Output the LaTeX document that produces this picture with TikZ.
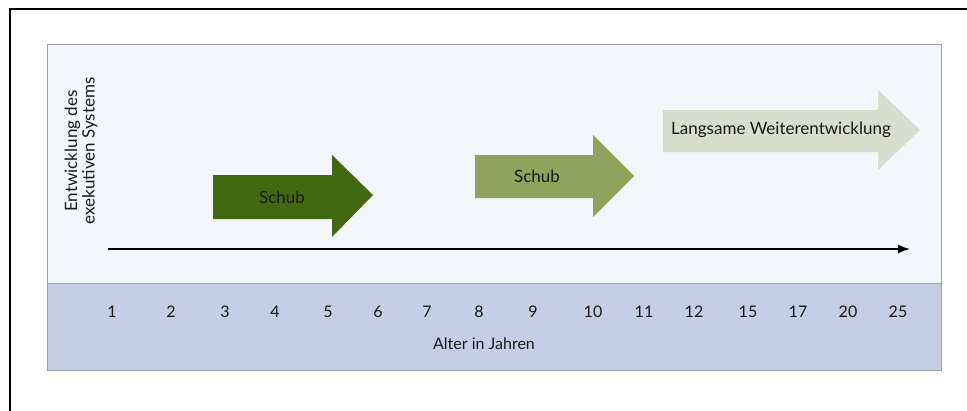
\documentclass[tikz,border=0pt]{standalone}
\usepackage{fontspec}
\setmainfont{Lato}
\usetikzlibrary{arrows.meta}
\definecolor{panelbg}{HTML}{F3F6FA}
\definecolor{bandbg}{HTML}{C4CEE4}
\definecolor{panelline}{HTML}{9A9FA8}
\definecolor{greenA}{HTML}{42690F}
\definecolor{greenB}{HTML}{8FA35C}
\definecolor{greenC}{HTML}{D8DDCC}
\begin{document}
\begin{tikzpicture}[x=1pt,y=-1pt,
  lbl/.style={font=\fontsize{17}{19}\selectfont, text=black!90},
  yearlbl/.style={font=\fontsize{16}{18}\selectfont, text=black!90, anchor=center}]
  \useasboundingbox (0,0) rectangle (967,410);
  % outer frame (runs off the right and bottom edges)
  \begin{scope}
    \clip (0,0) rectangle (967,410);
    \draw[line width=2pt, black] (10,9) rectangle (990,430);
  \end{scope}
  % upper panel and age band
  \filldraw[fill=panelbg, draw=panelline, line width=1pt] (47,44) rectangle (941,370);
  \filldraw[fill=bandbg, draw=panelline, line width=0.8pt] (47,283) rectangle (941,370);
  % vertical axis label
  \node[rotate=90, align=center, text=black!90, font=\fontsize{17}{17.5}\selectfont, inner sep=0pt] (ylab) at (81,151)
    {Entwicklung des\\exekutiven Systems};
  % time axis
  \coordinate (axs) at (108,249);
  \coordinate (axe) at (910,249);
  \draw[line width=1.6pt, -{Latex[length=12pt,width=9pt]}] (axs) -- (axe);
  % growth arrows
  \fill[greenA] (213,175) -- (332,175) -- (332,155) -- (373,195) -- (332,237) -- (332,219) -- (213,219) -- cycle;
  \node[lbl] (s1) at (282,197) {Schub};
  \fill[greenB] (475,155) -- (593,155) -- (593,135) -- (634,176) -- (593,217) -- (593,198) -- (475,198) -- cycle;
  \node[lbl] (s2) at (537,176) {Schub};
  \fill[greenC] (663,110) -- (878,110) -- (878,90) -- (920,130) -- (878,170) -- (878,152) -- (663,152) -- cycle;
  \node[lbl] (s3) at (781,130) {Langsame Weiterentwicklung};
  % ages
  \foreach \x/\t [count=\i] in {112/1,171/2,225/3,275/4,328/5,378/6,427/7,479/8,533/9,
      593/10,644/11,694/12,748/15,798/17,848/20,898/25}
    \node[yearlbl] (age\i) at (\x,312) {\t};
  \node[yearlbl] (agelab) at (484,344) {Alter in Jahren};
\end{tikzpicture}
\end{document}
